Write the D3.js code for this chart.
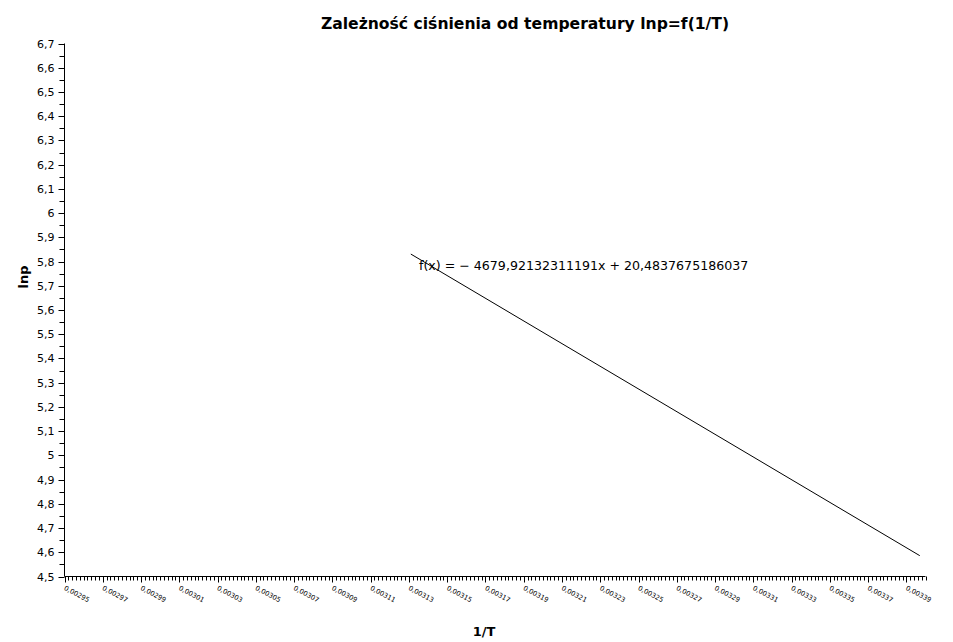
<!DOCTYPE html>
<html><head><meta charset="utf-8">
<script src="https://cdn.jsdelivr.net/npm/d3@7"></script>
<style>
body{margin:0;background:#fff;}
svg{display:block;font-family:"DejaVu Sans",sans-serif;}
</style></head>
<body><svg id="c" width="953" height="642"></svg>
<script>
// ---- data ----
const titleText = "Zależność ciśnienia od temperatury lnp=f(1/T)";
const xLabel = "1/T";
const yLabel = "lnp";
const xDomain = [0.00295, 0.00340];
const yDomain = [4.5, 6.7];
const xTicks = [0.00295,0.00297,0.00299,0.00301,0.00303,0.00305,0.00307,0.00309,0.00311,0.00313,0.00315,0.00317,0.00319,0.00321,0.00323,0.00325,0.00327,0.00329,0.00331,0.00333,0.00335,0.00337,0.00339];
const yTicks = [4.5,4.6,4.7,4.8,4.9,5.0,5.1,5.2,5.3,5.4,5.5,5.6,5.7,5.8,5.9,6.0,6.1,6.2,6.3,6.4,6.5,6.6,6.7];
const fitSlope = -4679.92132311191;
const fitIntercept = 20.4837675186037;
const lineX = [0.003131, 0.003397];
const fitLabel = "f(x) = \u2212 4679,92132311191x + 20,4837675186037";

// ---- drawing ----
const svg = d3.select("#c");
const loc = d3.formatLocale({decimal:",",thousands:" ",grouping:[3],currency:["",""]});
const fx = loc.format(".5f");
const fy = v => loc.format("")(+v.toFixed(1));

const x = d3.scaleLinear().domain(xDomain).range([64.5, 925.5]);
const y = d3.scaleLinear().domain(yDomain).range([576.5, 43.5]);

// minor ticks
const xMinor = [];
for (let i = 0; i < xTicks.length; i++) for (let k = 1; k < 10; k++) {
  const v = xTicks[i] + k * 0.000002;
  if (v <= xDomain[1] + 1e-12) xMinor.push(v);
}
const yMinor = yTicks.slice(0, -1).map((v, i) => (v + yTicks[i + 1]) / 2);

const gx = svg.append("g").attr("transform", "translate(0,576.5)");
gx.append("line").attr("x1", x.range()[0]).attr("x2", x.range()[1]).attr("stroke", "#000");
gx.selectAll("line.mi").data(xMinor).join("line").attr("class","mi")
  .attr("x1", d => Math.round(x(d)) + 0.5).attr("x2", d => Math.round(x(d)) + 0.5)
  .attr("y1", 0).attr("y2", 4).attr("stroke", "#000");
gx.selectAll("line.ma").data(xTicks).join("line").attr("class","ma")
  .attr("x1", d => Math.round(x(d)) + 0.5).attr("x2", d => Math.round(x(d)) + 0.5)
  .attr("y1", 0).attr("y2", 6).attr("stroke", "#000");
gx.selectAll("text").data(xTicks).join("text")
  .attr("transform", d => `translate(${x(d) - 1},${13}) rotate(28)`)
  .attr("font-size", 6.7).attr("fill", "#000").text(d => fx(d));

const gy = svg.append("g").attr("transform", "translate(64.5,0)");
gy.append("line").attr("y1", y.range()[0]).attr("y2", y.range()[1]).attr("stroke", "#000");
gy.selectAll("line.mi").data(yMinor).join("line").attr("class","mi")
  .attr("y1", d => Math.round(y(d)) + 0.5).attr("y2", d => Math.round(y(d)) + 0.5)
  .attr("x1", 0).attr("x2", -5).attr("stroke", "#000");
gy.selectAll("line.ma").data(yTicks).join("line").attr("class","ma")
  .attr("y1", d => Math.round(y(d)) + 0.5).attr("y2", d => Math.round(y(d)) + 0.5)
  .attr("x1", 0).attr("x2", -6).attr("stroke", "#000");
gy.selectAll("text").data(yTicks).join("text")
  .attr("x", -10).attr("y", d => y(d) + 4)
  .attr("text-anchor", "end").attr("font-size", 11).attr("fill", "#000").text(d => fy(d));

// fit line
const linePts = lineX.map(v => [v, fitSlope * v + fitIntercept]);
svg.append("path").datum(linePts)
  .attr("d", d3.line().x(d => x(d[0])).y(d => y(d[1])))
  .attr("fill", "none").attr("stroke", "#000").attr("stroke-width", 1);

svg.append("text").attr("x", 419).attr("y", 270).attr("font-size", 12.6).attr("fill", "#000").text(fitLabel);

// titles
svg.append("text").attr("x", 525).attr("y", 29).attr("text-anchor", "middle")
  .attr("font-size", 15.6).attr("font-weight", "bold").text(titleText);
svg.append("text").attr("x", 484).attr("y", 636).attr("text-anchor", "middle")
  .attr("font-size", 13).attr("font-weight", "bold").text(xLabel);
svg.append("text").attr("transform", "translate(28,277) rotate(-90)").attr("text-anchor", "middle")
  .attr("font-size", 13).attr("font-weight", "bold").text(yLabel);
</script></body></html>
